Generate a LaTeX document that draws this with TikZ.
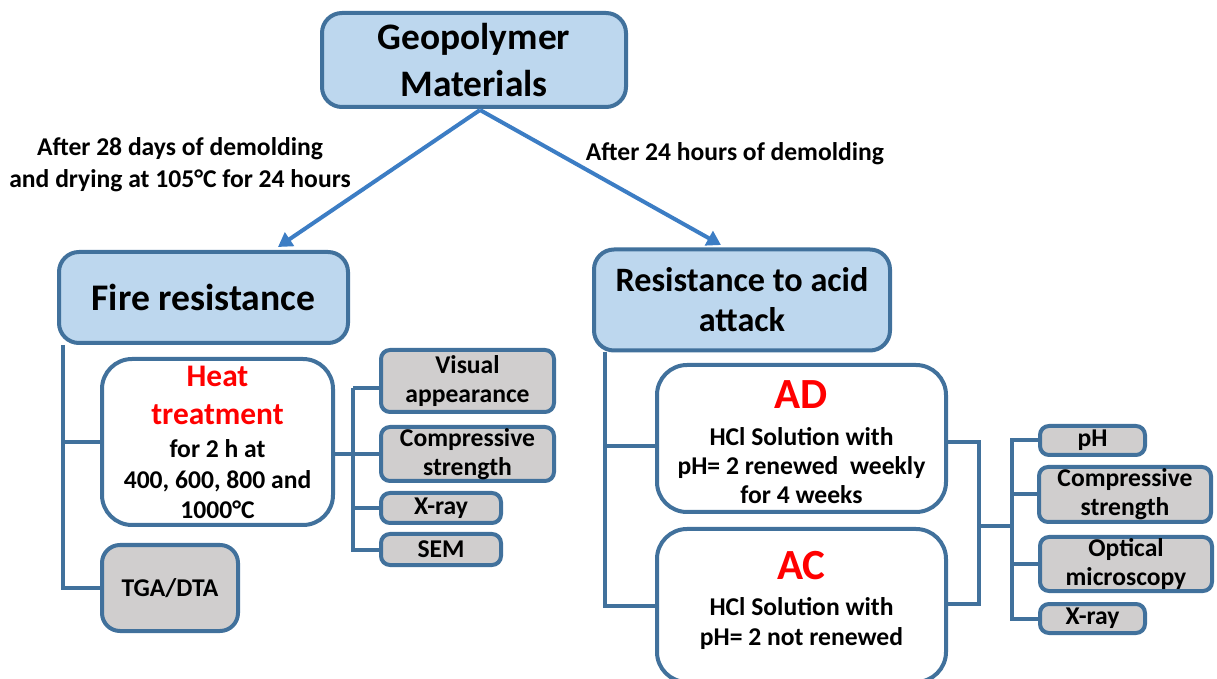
\documentclass[tikz,border=0pt]{standalone}
\usepackage{fontspec}
\setmainfont{Carlito}
\usetikzlibrary{arrows.meta,calc}
\definecolor{bfill}{HTML}{BDD7EE}
\definecolor{bline}{HTML}{41719C}
\definecolor{gfill}{HTML}{D0CECE}
\definecolor{arr}{HTML}{3C7DC4}
\definecolor{redt}{HTML}{FF0000}
\begin{document}
\begin{tikzpicture}[x=0.5pt,y=-0.5pt,
  sz/.style 2 args={minimum width=#1*0.5pt,minimum height=#2*0.5pt},
  basebox/.style={draw=bline,line width=2pt,inner sep=0pt,align=center},
  bluebox/.style={basebox,fill=bfill,rounded corners=10pt},
  whitebox/.style={basebox,fill=white,rounded corners=15pt},
  graybox/.style={basebox,fill=gfill,rounded corners=4.5pt,font=\bfseries\fontsize{12.8}{14.5}\selectfont},
  conn/.style={draw=bline,line width=2pt},
  arrowline/.style={draw=arr,line width=2pt,-{Triangle[length=7pt,width=8pt]}},
  txt/.style={inner sep=0pt,anchor=base,align=center},
  body/.style={txt,font=\bfseries\fontsize{12.8}{15}\selectfont},
  redh/.style={txt,text=redt,font=\bfseries\fontsize{15.7}{18}\selectfont},
  redbig/.style={txt,text=redt,font=\bfseries\fontsize{21.5}{25}\selectfont},
  lbl/.style={inner sep=0pt,align=center,font=\bfseries\fontsize{12.8}{16}\selectfont}
]
\useasboundingbox (0,0) rectangle (1217,679);

% top level
\node[bluebox,sz={304}{94},font=\bfseries\fontsize{18.7}{23.5}\selectfont] (geo) at (474,60) {Geopolymer\\Materials};
\node[bluebox,sz={289}{91},font=\bfseries\fontsize{18.8}{22}\selectfont] (fire) at (203.5,297.5) {Fire resistance};
\node[bluebox,sz={296}{101},font=\bfseries\fontsize{17.1}{20}\selectfont] (acid) at (742,300) {Resistance to acid\\attack};

% arrows
\coordinate (apex) at (480,110);
\coordinate (fireIn) at (278,247);
\coordinate (acidIn) at (721,245);
\draw[arrowline] (apex) -- (fireIn);
\draw[arrowline] (apex) -- (acidIn);
\node[lbl] (lblL) at (180,165) {After 28 days of demolding\\and drying at 105°C for 24 hours};
\node[lbl] (lblR) at (735,154) {After 24 hours of demolding};

% fire branch
\node[whitebox,sz={231}{166}] (heat) at (217.5,442) {};
\node[redh] (heat1) at (217.5,387) {Heat};
\node[redh] (heat2) at (217.5,425) {treatment};
\node[body] (heat3) at (217.5,458) {for 2 h at};
\node[body] (heat4) at (217.5,488) {400, 600, 800 and};
\node[body] (heat5) at (217.5,518) {1000°C};
\node[graybox,sz={136}{86},rounded corners=9pt] (tga) at (170,588) {TGA/DTA};

\node[graybox,sz={173}{62}] (vis) at (467.5,381) {Visual\\appearance};
\node[graybox,sz={173}{54}] (comp1) at (467.5,454) {Compressive\\strength};
\node[graybox,sz={120}{30}] (xray1) at (441,508) {X-ray};
\node[graybox,sz={120}{31}] (sem) at (441,549.5) {SEM};

\coordinate (trunkL) at (63,345);
\draw[conn] (trunkL) |- (tga.west);
\draw[conn] (heat.west) -- (heat.west -| trunkL);
\coordinate (trunkH) at (353,388);
\draw[conn] (heat.east |- comp1.west) -- (comp1.west);
\draw[conn] (trunkH) -- (trunkH |- sem.west) -- (sem.west);
\draw[conn] (trunkH) -- ([yshift=-3.5pt]vis.west);
\draw[conn] (trunkH |- xray1.west) -- (xray1.west);

% acid branch
\node[whitebox,sz={289}{147}] (ad) at (801.5,438.5) {};
\node[redbig] (ad1) at (801.5,409) {AD};
\node[body] (ad2) at (801.5,445) {HCl Solution with};
\node[body] (ad3) at (801.5,475) {pH= 2 renewed\ \ weekly};
\node[body] (ad4) at (801.5,503) {for 4 weeks};
\node[whitebox,sz={289}{153}] (ac) at (801.5,605.5) {};
\node[redbig] (ac1) at (801.5,580) {AC};
\node[body] (ac2) at (801.5,615) {HCl Solution with};
\node[body] (ac3) at (801.5,645) {pH= 2 not renewed};

\node[graybox,sz={105}{29}] (ph) at (1092.5,440.5) {pH};
\node[graybox,sz={172}{55}] (comp2) at (1125,494.5) {Compressive\\strength};
\node[graybox,sz={172}{54}] (opt) at (1126,564) {Optical\\microscopy};
\node[graybox,sz={105}{29}] (xray2) at (1092.5,618.5) {X-ray};

\coordinate (trunkA) at (605,352);
\draw[conn] (trunkA) |- (ac.west);
\draw[conn] ([yshift=-4pt]ad.west) -- ([yshift=-4pt]ad.west -| trunkA);
\coordinate (joinR) at (979,526);
\draw[conn] ([yshift=-2pt]ad.east) -| (joinR) |- ([yshift=1pt]ac.east);
\coordinate (trunkR) at (1012,526);
\draw[conn] (joinR) -- (trunkR);
\draw[conn] (ph.west) -| (trunkR |- xray2.west) -- (xray2.west);
\draw[conn] (trunkR |- comp2.west) -- (comp2.west);
\draw[conn] (trunkR |- opt.west) -- (opt.west);
\end{tikzpicture}
\end{document}
